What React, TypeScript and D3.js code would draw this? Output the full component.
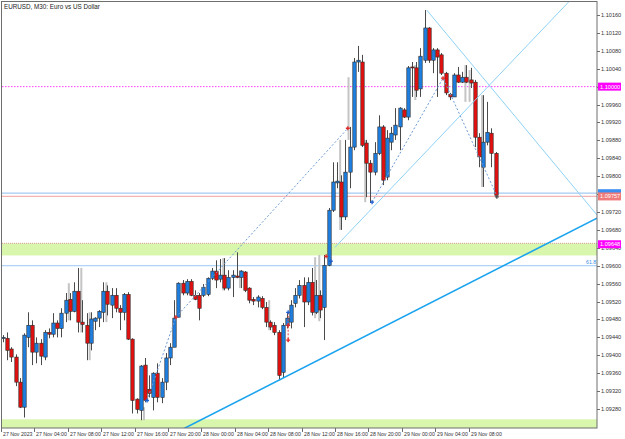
import React from "react";
import * as d3 from "d3";

// EURUSD M30 candles, bar 0 = 27 Nov 2023 00:00
const opens = [
  1.09438, 1.09438, 1.09414, 1.09396, 1.0934, 1.09284, 1.0944, 1.09467, 1.09407, 1.09427,
  1.09396, 1.09451, 1.09447, 1.09472, 1.0946, 1.09494, 1.09525, 1.09498, 1.09543, 1.09474,
  1.09467, 1.09427, 1.09476, 1.09483, 1.09496, 1.09543, 1.09512, 1.09534, 1.09505, 1.09496,
  1.09536, 1.09436, 1.09302, 1.09277, 1.09378, 1.09324, 1.09306, 1.0936, 1.09306, 1.0934,
  1.09394, 1.09418, 1.09485, 1.09561, 1.09539, 1.09565, 1.09534, 1.09534, 1.09534, 1.09536,
  1.09572, 1.09588, 1.0957, 1.09579, 1.0955, 1.09574, 1.09577, 1.09574, 1.09586, 1.0955,
  1.09525, 1.09521, 1.09527, 1.09507, 1.09474, 1.09467, 1.09451, 1.09362, 1.09467, 1.09474,
  1.09516, 1.09534, 1.09556, 1.09519, 1.09563, 1.09496, 1.09534, 1.09507, 1.09601, 1.09724,
  1.09785, 1.09787, 1.09709, 1.09809, 1.09865, 1.10055, 1.10055, 1.09874, 1.09829, 1.09809,
  1.09851, 1.0991, 1.09798, 1.09876, 1.09892, 1.0991, 1.09948, 1.09932, 1.10044, 1.10042,
  1.09995, 1.10059, 1.10131, 1.10059, 1.10082, 1.10071, 1.1003, 1.09983, 1.09977, 1.10026,
  1.1001, 1.10021, 1.10015, 1.1001, 1.09887, 1.0982, 1.09876, 1.09896, 1.09851,
];
const highs = [
  1.09445, 1.09451, 1.09418, 1.09402, 1.09349, 1.09449, 1.09496, 1.09478, 1.0944, 1.09436,
  1.09456, 1.0946, 1.09494, 1.09478, 1.09505, 1.09539, 1.09539, 1.09563, 1.09595, 1.09523,
  1.09494, 1.09496, 1.09485, 1.09501, 1.09563, 1.09556, 1.0955, 1.0955, 1.09512, 1.09539,
  1.09541, 1.09438, 1.09304, 1.09378, 1.09394, 1.09355, 1.09362, 1.09382, 1.09349, 1.09405,
  1.09427, 1.09523, 1.09563, 1.09568, 1.0957, 1.0957, 1.09545, 1.09539, 1.09559, 1.09574,
  1.09595, 1.09612, 1.09615, 1.09617, 1.0959, 1.0959, 1.0963, 1.0959, 1.09588, 1.09552,
  1.0953, 1.09534, 1.09532, 1.09519, 1.09478, 1.09474, 1.09456, 1.09472, 1.09494, 1.09523,
  1.0955, 1.09568, 1.09574, 1.09574, 1.09595, 1.09568, 1.09545, 1.09624, 1.09729, 1.09831,
  1.09831, 1.09802, 1.09881, 1.0991, 1.10064, 1.10091, 1.10071, 1.09881, 1.09836, 1.09876,
  1.09936, 1.09914, 1.09903, 1.0991, 1.09952, 1.09954, 1.09952, 1.10046, 1.10055, 1.10055,
  1.10086, 1.10171, 1.10133, 1.10086, 1.10086, 1.10075, 1.10033, 1.09986, 1.1003, 1.10044,
  1.10033, 1.10048, 1.10042, 1.10015, 1.09896, 1.09981, 1.09966, 1.09907, 1.09854,
];
const lows = [
  1.09429, 1.09389, 1.09385, 1.09331, 1.09282, 1.09261, 1.09418, 1.09378, 1.09382, 1.09378,
  1.09389, 1.09438, 1.0944, 1.0944, 1.0944, 1.09474, 1.09478, 1.09496, 1.09451, 1.09451,
  1.09389, 1.09411, 1.09456, 1.09463, 1.09474, 1.09489, 1.09483, 1.09496, 1.09456, 1.09478,
  1.09434, 1.0927, 1.0927, 1.09255, 1.09295, 1.09306, 1.09277, 1.09295, 1.09293, 1.09322,
  1.09378, 1.09418, 1.09485, 1.09534, 1.09534, 1.09532, 1.09523, 1.09478, 1.0953, 1.09532,
  1.09568, 1.0955, 1.09563, 1.09545, 1.09545, 1.0953, 1.09572, 1.0955, 1.09541, 1.09516,
  1.09512, 1.09507, 1.09503, 1.09463, 1.09456, 1.09445, 1.09344, 1.09349, 1.0946, 1.0946,
  1.09507, 1.09527, 1.09463, 1.09512, 1.09489, 1.09492, 1.09483, 1.09434, 1.09599, 1.0972,
  1.09773, 1.0968, 1.09702, 1.09773, 1.09858, 1.10033, 1.09865, 1.09753, 1.0974, 1.09802,
  1.09847, 1.0978, 1.09791, 1.09858, 1.09881, 1.09858, 1.0993, 1.09925, 1.09977, 1.09977,
  1.09977, 1.10053, 1.10053, 1.1003, 1.09977, 1.10026, 1.09981, 1.0997, 1.09977, 1.10008,
  1.10008, 1.10008, 1.09997, 1.09865, 1.0982, 1.09776, 1.09869, 1.0982, 1.09751,
];
const closes = [
  1.0944, 1.09411, 1.09396, 1.0934, 1.09284, 1.09445, 1.09467, 1.09407, 1.09427, 1.09398,
  1.09451, 1.09447, 1.09472, 1.0946, 1.09494, 1.09523, 1.09498, 1.09543, 1.09474, 1.09469,
  1.09427, 1.09481, 1.09483, 1.09498, 1.09543, 1.09514, 1.09534, 1.09505, 1.09496, 1.09536,
  1.09436, 1.09299, 1.09279, 1.09376, 1.09299, 1.09315, 1.0936, 1.09306, 1.0934, 1.09394,
  1.09418, 1.09483, 1.09561, 1.09539, 1.09565, 1.09534, 1.09525, 1.09505, 1.09552, 1.09572,
  1.09588, 1.09568, 1.09579, 1.0955, 1.09574, 1.09579, 1.09574, 1.09588, 1.09545, 1.09523,
  1.09521, 1.0953, 1.09507, 1.09474, 1.09463, 1.09451, 1.09355, 1.09467, 1.09483, 1.09512,
  1.09534, 1.09556, 1.09519, 1.09563, 1.09496, 1.09534, 1.09501, 1.09601, 1.09724, 1.09787,
  1.09789, 1.09709, 1.09809, 1.09865, 1.10055, 1.10059, 1.09869, 1.09829, 1.09809, 1.09851,
  1.0991, 1.09791, 1.09885, 1.09896, 1.09914, 1.09952, 1.09932, 1.10042, 1.10042, 1.09992,
  1.10068, 1.10131, 1.10059, 1.10082, 1.10066, 1.1003, 1.09986, 1.09977, 1.10026, 1.1001,
  1.10021, 1.1001, 1.10008, 1.09887, 1.09843, 1.09876, 1.09898, 1.09851, 1.09757,
];

// light grey shadow bars behind some candles: [bar, top, bottom]
const ghosts = [
  [16, 1.09561, 1.09478], [19, 1.09595, 1.09451], [21, 1.09496, 1.09389], [25, 1.09563, 1.09474],
  [34, 1.09284, 1.09255], [53, 1.09617, 1.09545], [57, 1.0959, 1.0955], [64, 1.09523, 1.09456],
  [75, 1.09619, 1.09483], [76, 1.09624, 1.09476], [81, 1.09881, 1.0968], [83, 1.10021, 1.09881],
  [87, 1.09881, 1.09742], [99, 1.10048, 1.0997], [111, 1.10048, 1.09966], [112, 1.10037, 1.09966],
  [115, 1.09981, 1.09776],
];

const priceTicks = [
  1.0928, 1.0932, 1.0936, 1.094, 1.0944, 1.0948, 1.0952, 1.0956, 1.096, 1.0964, 1.0968, 1.0972,
  1.0976, 1.098, 1.0984, 1.0988, 1.0992, 1.0996, 1.1, 1.1004, 1.1008, 1.1012, 1.1016,
];
const timeLabels = [
  "27 Nov 2023", "27 Nov 04:00", "27 Nov 08:00", "27 Nov 12:00", "27 Nov 16:00", "27 Nov 20:00",
  "28 Nov 00:00", "28 Nov 04:00", "28 Nov 08:00", "28 Nov 12:00", "28 Nov 16:00", "28 Nov 20:00",
  "29 Nov 00:00", "29 Nov 04:00", "29 Nov 08:00",
];

// objects on the chart
const roundLevel = 1.1;
const fibLevel = 1.096;
const askPrice = 1.09762;
const bidPrice = 1.09757;
const zoneUpper = [1.0965, 1.09623];
const zoneLower = [1.09257, 1.092];
const zoneLabel = 1.09648;
const trendMain = [[66, 1.09344], [118, 1.09591]];
const trendUp = [[79.5, 1.09641], [118, 1.10018]];
const trendDown = [[101.5, 1.10171], [142.3, 1.09713]];
const zigA = [[34.5, 1.09299], [41.4, 1.09485], [82.6, 1.09907]];
const zigB = [[88.4, 1.09742], [105.4, 1.10019], [118.3, 1.09756]];
const tradeMarks = [
  [34.5, 1.09299, "b"], [41.4, 1.09485, "r"], [82.6, 1.09907, "r"], [88.4, 1.09742, "b"],
  [105.4, 1.10019, "r"], [118.3, 1.09754, "d"], [68.3, 1.09496, "b"], [68.3, 1.09467, "r"],
  [68.3, 1.09434, "r"], [77.4, 1.09621, "r"], [78.5, 1.0961, "b"],
];
const stopLine = [68.3, 1.09496, 1.09429];

const W = 625;
const H = 439;
const L = 2;
const R = 597;
const T = 2;
const B = 428;
const FONT = "'Liberation Sans', Arial, sans-serif";

const x = d3.scaleLinear().domain([0, 118]).range([3, 495.65]);
const y = d3.scaleLinear().domain([1.0928, 1.1016]).range([409, 15]);

const ray = (pts: number[][], both: boolean) => {
  const x1 = x(pts[0][0]), y1 = y(pts[0][1]);
  const x2 = x(pts[1][0]), y2 = y(pts[1][1]);
  const k = (y2 - y1) / (x2 - x1);
  const xs = both ? L : x1;
  return { x1: xs, y1: y1 + k * (xs - x1), x2: R, y2: y1 + k * (R - x1) };
};

const poly = d3
  .line<number[]>()
  .x((d) => x(d[0]))
  .y((d) => y(d[1]));

const BLUE = "#1f7fe0";
const RED = "#e31010";

const App = () => {
  const bars = d3.range(opens.length);
  const tMain = ray(trendMain, true);
  const tUp = ray(trendUp, false);
  const tDown = ray(trendDown, false);
  const fmt = d3.format(".5f");
  // tags fully cover the tick labels right under them
  const tags = [roundLevel, bidPrice];
  const shownTicks = priceTicks.filter((p) => tags.every((t) => Math.abs(y(p) - y(t)) > 2.5));

  return (
    <svg
      width={W}
      height={H}
      style={{ position: "fixed", left: 0, top: 0, background: "#fff" }}
      fontFamily={FONT}
    >
      <defs>
        <clipPath id="plot">
          <rect x={L} y={T} width={R - L} height={B - T} />
        </clipPath>
      </defs>
      <rect x={0} y={0} width={W} height={H} fill="#fff" />

      <g clipPath="url(#plot)">
        {/* zones */}
        <rect x={L} width={R - L} y={y(zoneUpper[0])} height={y(zoneUpper[1]) - y(zoneUpper[0])} fill="#d8f6ac" />
        <line x1={L} x2={R} y1={y(zoneUpper[0])} y2={y(zoneUpper[0])} stroke="#d99a9a" strokeDasharray="1,1" />
        <rect x={L} width={R - L} y={y(zoneLower[0])} height={y(zoneLower[1]) - y(zoneLower[0])} fill="#d8f6ac" />

        {/* levels */}
        <line x1={L} x2={R} y1={y(roundLevel)} y2={y(roundLevel)} stroke="#ff40ff" strokeDasharray="1.5,1.5" />
        <line x1={L} x2={R} y1={y(fibLevel)} y2={y(fibLevel)} stroke="#9cc8f4" />
        <line x1={L} x2={R} y1={y(askPrice)} y2={y(askPrice)} stroke="#a3c9f2" strokeWidth={1.3} />
        <line x1={L} x2={R} y1={y(bidPrice) + 1} y2={y(bidPrice) + 1} stroke="#f3b3b3" strokeWidth={1.3} />

        {/* grey shadow bars */}
        {ghosts.map((g, i) => (
          <rect key={"g" + i} x={x(g[0]) - 2} width={2} y={y(g[1])} height={y(g[2]) - y(g[1])} fill="#c4c4c4" />
        ))}

        {/* candles */}
        {bars.map((i) => {
          const up = closes[i] >= opens[i];
          const top = y(Math.max(opens[i], closes[i]));
          const bot = y(Math.min(opens[i], closes[i]));
          const cx = Math.round(x(i)) + 0.5;
          return (
            <g key={i}>
              <line x1={cx} x2={cx} y1={y(highs[i])} y2={y(lows[i])} stroke="#4a4a4a" />
              <rect
                x={cx - 1.7}
                width={3.4}
                y={top}
                height={Math.max(bot - top, 1)}
                fill={up ? BLUE : RED}
                stroke="#2b2b2b"
                strokeWidth={0.6}
              />
            </g>
          );
        })}

        {/* trend lines */}
        <line {...tMain} stroke="#1aa3ef" strokeWidth={1.6} />
        <line {...tUp} stroke="#8fd2f6" strokeWidth={1} />
        <line {...tDown} stroke="#8fd2f6" strokeWidth={1} />

        {/* zigzag trade lines */}
        <path d={poly(zigA) || ""} fill="none" stroke="#6c9bd6" strokeDasharray="2,2" />
        <path d={poly(zigB) || ""} fill="none" stroke="#6c9bd6" strokeDasharray="2,2" />
        <line
          x1={x(stopLine[0])}
          x2={x(stopLine[0])}
          y1={y(stopLine[1])}
          y2={y(stopLine[2])}
          stroke="#e04040"
          strokeDasharray="2,1.5"
        />
        {tradeMarks.map((m, i) => {
          const c = m[2] === "b" ? "#1b5fd0" : m[2] === "r" ? "#e02828" : "#555";
          const px = x(m[0] as number);
          const py = y(m[1] as number);
          return (
            <path key={"m" + i} d={`M${px - 2},${py}H${px + 2}M${px},${py - 2}V${py + 2}`} stroke={c} strokeWidth={1.3} />
          );
        })}
      </g>

      {/* frame */}
      <rect x={1.5} y={1.5} width={R - 1.5} height={B - 1.5} fill="none" stroke="#6e6e6e" />

      {/* title */}
      <text x={4} y={9} fontSize={6.3} fill="#222">
        EURUSD, M30:  Euro vs US Dollar
      </text>

      {/* price axis */}
      {priceTicks.map((p) => (
        <line key={"t" + p} x1={R} x2={R + 3} y1={Math.round(y(p)) + 0.5} y2={Math.round(y(p)) + 0.5} stroke="#6e6e6e" />
      ))}
      {shownTicks.map((p) => (
        <text key={p} x={601} y={y(p) + 2} fontSize={5.6} fill="#333">
          {fmt(p)}
        </text>
      ))}
      <text x={586} y={y(fibLevel) - 1.5} fontSize={5.2} fill="#3a8ee6">
        61.8
      </text>

      {/* price tags */}
      <rect x={598} y={y(roundLevel) - 4} width={23} height={8} fill="#ff00ff" />
      <text x={600} y={y(roundLevel) + 2} fontSize={5.6} fill="#fff">
        {fmt(roundLevel)}
      </text>
      <rect x={598} y={y(askPrice) - 4} width={23} height={8} fill="#3b8ff0" />
      <rect x={598} y={y(bidPrice) - 3} width={23} height={8} fill="#f07a7a" />
      <text x={600} y={y(bidPrice) + 3} fontSize={5.6} fill="#fff">
        {fmt(bidPrice)}
      </text>
      <rect x={598} y={y(zoneLabel) - 4} width={23} height={8} fill="#ff00ff" />
      <text x={600} y={y(zoneLabel) + 2} fontSize={5.6} fill="#fff">
        {fmt(zoneLabel)}
      </text>

      {/* time axis */}
      {timeLabels.map((t, i) => {
        const tx = Math.round(x(i * 8)) - 1.5;
        return (
          <g key={t}>
            <line x1={tx} x2={tx} y1={B} y2={B + 4} stroke="#6e6e6e" />
            <text x={tx + 1.5} y={B + 7.5} fontSize={5.2} fill="#333">
              {t}
            </text>
          </g>
        );
      })}
    </svg>
  );
};

export default App;
